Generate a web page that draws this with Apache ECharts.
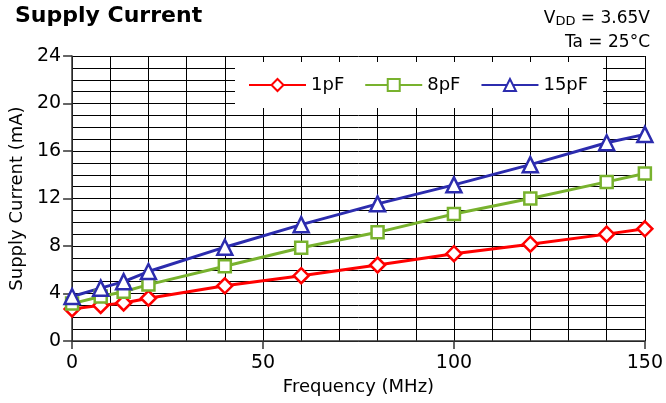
<!DOCTYPE html>
<html>
<head>
<meta charset="utf-8">
<script src="https://cdn.jsdelivr.net/npm/echarts@6/dist/echarts.min.js"></script>
<style>html,body{margin:0;padding:0;background:#fff}#c{width:666px;height:403px}</style>
</head>
<body>
<div id="c"></div>
<script>
var freqMHz = [0, 7.5, 13.5, 20, 40, 60, 80, 100, 120, 140, 150];
var current1pF = [2.7, 3.0, 3.2, 3.6, 4.65, 5.5, 6.4, 7.35, 8.15, 9.0, 9.45];
var current8pF = [3.15, 3.75, 4.15, 4.75, 6.3, 7.85, 9.15, 10.7, 12.0, 13.4, 14.1];
var current15pF = [3.75, 4.45, 5.0, 5.85, 7.9, 9.8, 11.55, 13.15, 14.85, 16.7, 17.4];
var seriesNames = ['1pF', '8pF', '15pF'];
var xTicks = [0, 50, 100, 150];
var yTicks = [0, 4, 8, 12, 16, 20, 24];

function pairs(ys) { return freqMHz.map(function (x, i) { return [x, ys[i]]; }); }

var FONT = 'DejaVu Sans';
var chart = echarts.init(document.getElementById('c'), null, { renderer: 'canvas' });

function mkSeries(name, ys, color, symbol, size) {
  return {
    name: name, type: 'line', data: pairs(ys),
    symbol: symbol, symbolSize: size, showAllSymbol: true,
    lineStyle: { color: color, width: 3 },
    itemStyle: { color: '#fff', borderColor: color, borderWidth: 2.5 },
    emphasis: { disabled: true }, z: 3
  };
}

chart.setOption({
  animation: false,
  textStyle: { fontFamily: FONT },
  title: [{
    text: 'Supply Current', left: 10, top: 0,
    textStyle: { fontFamily: FONT, fontSize: 22, fontWeight: 'bold', color: '#000' }
  }, {
    text: '{a|V}{b|DD}{a| = 3.65V}', right: 11, top: 5,
    textStyle: { fontWeight: 'normal', rich: {
      a: { fontFamily: FONT, fontSize: 17, fontWeight: 'normal', color: '#000' },
      b: { fontFamily: FONT, fontSize: 13, fontWeight: 'normal', color: '#000', verticalAlign: 'bottom', padding: [0, 0, -1, 0] } } }
  }, {
    text: 'Ta = 25°C', right: 11, top: 29,
    textStyle: { fontFamily: FONT, fontSize: 17, fontWeight: 'normal', color: '#000' }
  }],
  legend: {
    data: seriesNames, left: 235, top: 62,
    backgroundColor: '#fff', padding: [14, 15, 14, 13],
    itemWidth: 57, itemHeight: 15, itemGap: 20,
    textStyle: { fontFamily: FONT, fontSize: 18, color: '#000' }
  },
  grid: { left: 68, right: 18, top: 56, bottom: 62, containLabel: false },
  xAxis: {
    type: 'value', min: 0, max: 150, interval: 50,
    name: 'Frequency (MHz)', nameLocation: 'middle', nameGap: 37,
    nameTextStyle: { fontFamily: FONT, fontSize: 18, color: '#000' },
    axisLine: { show: true, lineStyle: { color: '#333', width: 1.5 } },
    axisTick: { show: true, length: 8, lineStyle: { color: '#333', width: 1.5 } },
    axisLabel: { fontFamily: FONT, fontSize: 19, color: '#000', margin: 13,
      formatter: function (v) { return xTicks.indexOf(v) >= 0 ? String(v) : ''; } },
    splitLine: { show: true, lineStyle: { color: '#000', width: 1 } },
    minorTick: { show: false, splitNumber: 5 },
    minorSplitLine: { show: true, lineStyle: { color: '#000', width: 1 } }
  },
  yAxis: {
    type: 'value', min: 0, max: 24, interval: 4,
    name: 'Supply Current (mA)', nameLocation: 'middle', nameGap: 46,
    nameTextStyle: { fontFamily: FONT, fontSize: 18, color: '#000' },
    axisLine: { show: true, lineStyle: { color: '#333', width: 1.5 } },
    axisTick: { show: true, length: 9, lineStyle: { color: '#333', width: 1.5 } },
    axisLabel: { fontFamily: FONT, fontSize: 19, color: '#000', margin: 11,
      formatter: function (v) { return yTicks.indexOf(v) >= 0 ? String(v) : ''; } },
    splitLine: { show: true, lineStyle: { color: '#000', width: 1 } },
    minorTick: { show: false, splitNumber: 4 },
    minorSplitLine: { show: true, lineStyle: { color: '#000', width: 1 } }
  },
  series: [
    mkSeries(seriesNames[0], current1pF, '#ff0000', 'diamond', 15),
    mkSeries(seriesNames[1], current8pF, '#78b22e', 'rect', 12),
    mkSeries(seriesNames[2], current15pF, '#2c2cae', 'triangle', 15)
  ]
});
</script>
</body>
</html>
